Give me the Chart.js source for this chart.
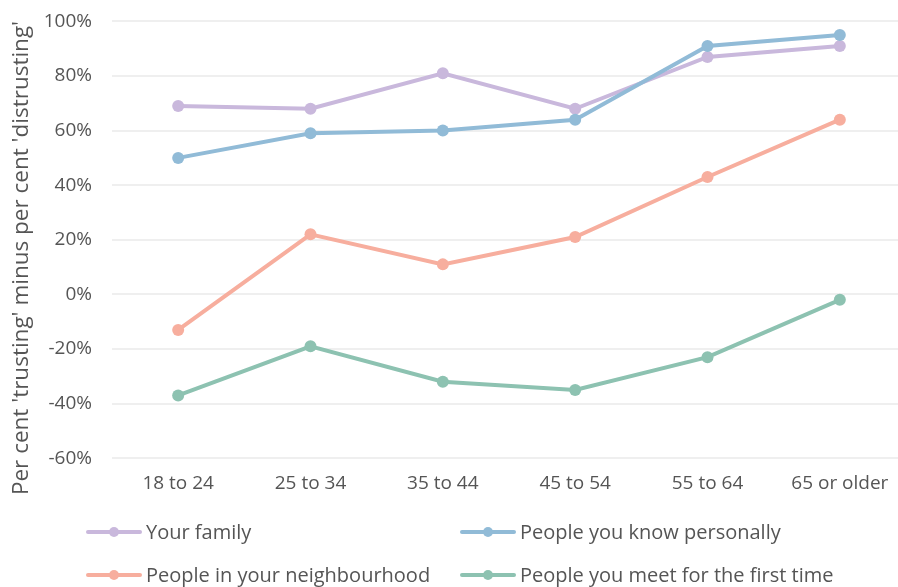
<!DOCTYPE html>
<html lang="en">
  <head>
    <meta charset="UTF-8" />
    <title>Trust by age group</title>
    <script src="https://cdn.jsdelivr.net/npm/chart.js"></script>
    <style>
      html, body { margin: 0; padding: 0; background: #fff; overflow: hidden; }
      body { width: 898px; height: 587px; position: relative; font-family: "Open Sans", sans-serif; }
      .chart-wrap { position: absolute; left: 0; top: -10px; width: 912px; height: 519px; }
      .y-title {
        position: absolute; left: 20px; top: 258px; white-space: nowrap;
        transform: translate(-50%, -50%) rotate(-90deg);
        font-size: 22.5px; color: #555; line-height: 26px;
      }
      .legend { position: absolute; left: 0; top: 0; width: 898px; height: 587px; pointer-events: none; }
      .item { position: absolute; display: flex; align-items: center; font-size: 20px; color: #555; line-height: 24px; }
      .swatch { position: relative; width: 56px; height: 4px; border-radius: 2px; margin-right: 4px; }
      .swatch::after { content: ""; position: absolute; left: 23px; top: -3px; width: 10px; height: 10px; border-radius: 50%; background: inherit; }
    </style>
  </head>
  <body>
    <div class="chart-wrap"><canvas id="trustChart"></canvas></div>
    <div class="y-title">Per cent 'trusting' minus per cent 'distrusting'</div>
    <div class="legend" id="legend"></div>

    <script>
      // Age groups and net trust (% trusting minus % distrusting)
      const ageGroups = ["18 to 24", "25 to 34", "35 to 44", "45 to 54", "55 to 64", "65 or older"];
      const yourFamily = [69, 68, 81, 68, 87, 91];
      const knowPersonally = [50, 59, 60, 64, 91, 95];
      const neighbourhood = [-13, 22, 11, 21, 43, 64];
      const meetFirstTime = [-37, -19, -32, -35, -23, -2];
      const yTicks = [100, 80, 60, 40, 20, 0, -20, -40, -60];

      const series = [
        { label: "Your family", data: yourFamily, color: "#c9b8dc", order: 2, pos: [86, 532] },
        { label: "People you know personally", data: knowPersonally, color: "#91bbd7", order: 1, pos: [460, 532] },
        { label: "People in your neighbourhood", data: neighbourhood, color: "#f7ae9e", order: 3, pos: [86, 575] },
        { label: "People you meet for the first time", data: meetFirstTime, color: "#8dc2b1", order: 4, pos: [460, 575] },
      ];

      Chart.defaults.font.family = "'Open Sans', sans-serif";
      Chart.defaults.font.size = 19;
      Chart.defaults.color = "#555";

      new Chart(document.getElementById("trustChart"), {
        type: "line",
        data: {
          labels: ageGroups,
          datasets: series.map((s) => ({
            label: s.label,
            data: s.data,
            order: s.order,
            borderColor: s.color,
            backgroundColor: s.color,
            pointBackgroundColor: s.color,
            pointBorderWidth: 0,
            pointRadius: 6,
            borderWidth: 4,
            tension: 0,
            fill: false,
          })),
        },
        options: {
          responsive: true,
          maintainAspectRatio: false,
          animation: false,
          layout: { padding: { top: 2, right: 0, bottom: 0, left: 0 } },
          plugins: { legend: { display: false }, tooltip: { enabled: false } },
          scales: {
            x: {
              offset: true,
              grid: { display: false, drawTicks: false },
              border: { display: false },
              ticks: { padding: 14 },
            },
            y: {
              min: -60,
              max: 100,
              afterFit: (axis) => { axis.width = 112; },
              afterBuildTicks: (axis) => { axis.ticks = yTicks.map((v) => ({ value: v })); },
              grid: { drawTicks: false, lineWidth: 2, color: "#efefef" },
              border: { display: false },
              ticks: { padding: 20, callback: (v) => v + "%" },
            },
          },
        },
      });

      // Two-column legend under the plot
      const legend = document.getElementById("legend");
      series.forEach((s) => {
        const item = document.createElement("div");
        item.className = "item";
        item.style.left = s.pos[0] + "px";
        item.style.top = s.pos[1] - 12 + "px";
        item.innerHTML = `<span class="swatch" style="background:${s.color}"></span>${s.label}`;
        legend.appendChild(item);
      });
    </script>
  </body>
</html>
